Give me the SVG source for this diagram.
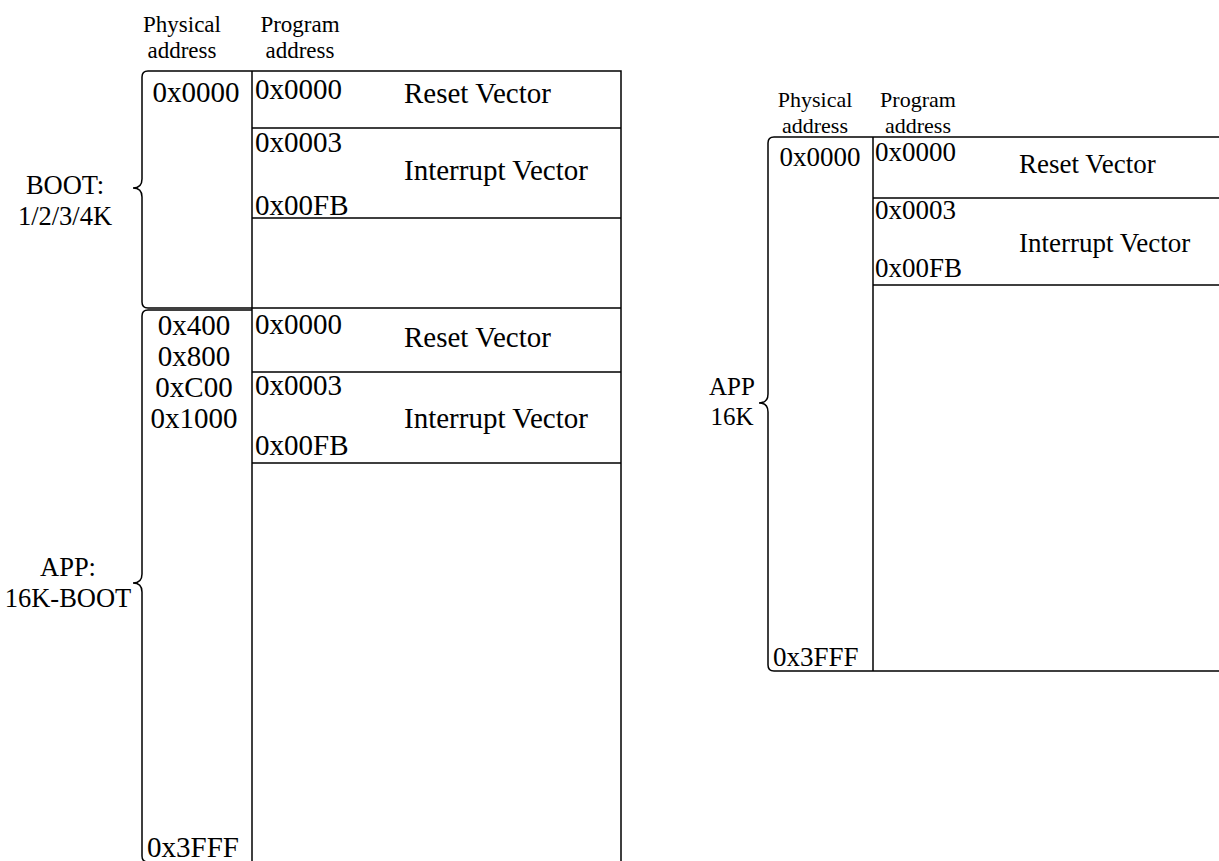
<svg xmlns="http://www.w3.org/2000/svg" width="1219" height="861" viewBox="0 0 1219 861">
<style>
.ln{fill:none;stroke:#000;stroke-width:1.5}
.t{font-family:"Liberation Serif","Times New Roman",serif;fill:#000}
.m{font-size:29px}
.h{font-size:23px}
.s{font-size:26.5px}
.rm{font-size:27px}
.rh{font-size:22px}
.rs{font-size:25px}
.c{text-anchor:middle}
</style>
<rect width="1219" height="861" fill="#fff"/>

<g id="left-map">
  <g id="left-headers">
    <text class="t h c" x="182" y="32">Physical</text>
    <text class="t h c" x="182" y="58">address</text>
    <text class="t h c" x="300" y="32">Program</text>
    <text class="t h c" x="300" y="58">address</text>
  </g>
  <g id="left-frame">
    <path class="ln" d="M252 71 H621 V861"/>
    <path class="ln" d="M252 71 V861"/>
    <path class="ln" d="M252 128 H621 M252 218 H621 M252 308 H621 M252 372 H621 M252 463 H621"/>
  </g>
  <g id="boot-region">
    <path class="ln" d="M252 308 H148 Q142 308 142 302 V197 C142 191 139 188 133 188 C139 188 142 185 142 179 V77 Q142 71 148 71 H252"/>
    <text class="t s c" x="65" y="194">BOOT:</text>
    <text class="t s c" x="65" y="225">1/2/3/4K</text>
    <text class="t m c" x="196" y="102">0x0000</text>
    <text class="t m" x="255" y="99">0x0000</text>
    <text class="t m" x="404" y="103">Reset Vector</text>
    <text class="t m" x="255" y="152">0x0003</text>
    <text class="t m" x="404" y="180">Interrupt Vector</text>
    <text class="t m" x="255" y="215">0x00FB</text>
  </g>
  <g id="app-region">
    <path class="ln" d="M252 310 H148 Q142 310 142 316 V574 C142 580 139 583 133 583 C139 583 142 586 142 592 V856 Q142 862 148 862 H252"/>
    <text class="t s c" x="68" y="576">APP:</text>
    <text class="t s c" x="68" y="607">16K-BOOT</text>
    <text class="t m c" x="194" y="335">0x400</text>
    <text class="t m c" x="194" y="366">0x800</text>
    <text class="t m c" x="194" y="397">0xC00</text>
    <text class="t m c" x="194" y="428">0x1000</text>
    <text class="t m" x="255" y="334">0x0000</text>
    <text class="t m" x="404" y="347">Reset Vector</text>
    <text class="t m" x="255" y="395">0x0003</text>
    <text class="t m" x="404" y="428">Interrupt Vector</text>
    <text class="t m" x="255" y="455">0x00FB</text>
    <text class="t m" x="147" y="857">0x3FFF</text>
  </g>
</g>

<g id="right-map">
  <g id="right-headers">
    <text class="t rh c" x="815" y="107">Physical</text>
    <text class="t rh c" x="815" y="133">address</text>
    <text class="t rh c" x="918" y="107">Program</text>
    <text class="t rh c" x="918" y="133">address</text>
  </g>
  <g id="right-frame">
    <path class="ln" d="M873 137 H1221 M873 198 H1221 M873 285 H1221 M873 671 H1221"/>
    <path class="ln" d="M873 137 V671"/>
  </g>
  <g id="app16k-region">
    <path class="ln" d="M873 137 H774 Q768 137 768 143 V394 C768 400 765 403 759 403 C765 403 768 406 768 412 V665 Q768 671 774 671 H873"/>
    <text class="t rs c" x="732" y="395">APP</text>
    <text class="t rs c" x="732" y="425">16K</text>
    <text class="t rm c" x="820" y="166">0x0000</text>
    <text class="t rm" x="875" y="161">0x0000</text>
    <text class="t rm" x="1019" y="173">Reset Vector</text>
    <text class="t rm" x="875" y="219">0x0003</text>
    <text class="t rm" x="1019" y="252">Interrupt Vector</text>
    <text class="t rm" x="875" y="277">0x00FB</text>
    <text class="t rm" x="773" y="666">0x3FFF</text>
  </g>
</g>
</svg>
